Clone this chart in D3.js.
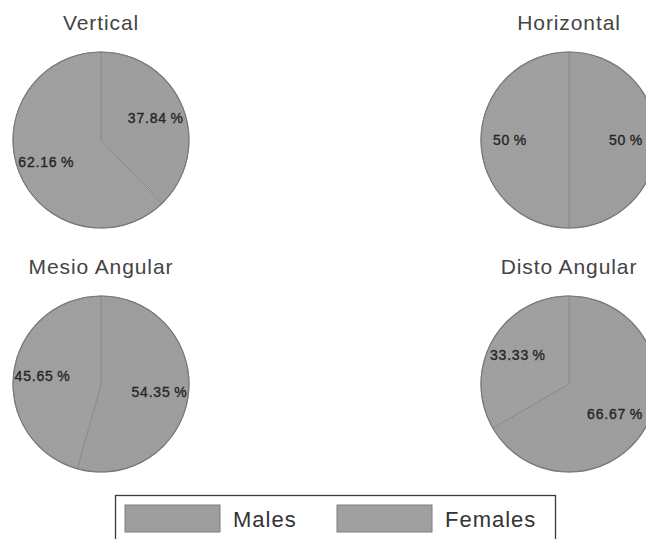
<!DOCTYPE html>
<html>
<head>
<meta charset="utf-8">
<script src="https://cdn.jsdelivr.net/npm/d3@7"></script>
<style>
  html, body { margin: 0; padding: 0; background: #fff; }
  svg { display: block; }
  text { font-family: "Liberation Sans", Arial, sans-serif; }
</style>
</head>
<body>
<svg id="chart" width="646" height="539"></svg>
<script>
// Share of males and females for each orientation
const groups = ["Vertical", "Horizontal", "Mesio Angular", "Disto Angular"];
const sexes = ["Males", "Females"];
const males = [37.84, 50, 54.35, 66.67];
const females = [62.16, 50, 45.65, 33.33];

const W = 646, H = 539;
const svg = d3.select("#chart");

// Dithered gray fills, one per sex
const defs = svg.append("defs");
const tones = { Males: ["#a4a4a4", "#979797"], Females: ["#a6a6a6", "#999999"] };
sexes.forEach(s => {
  const p = defs.append("pattern")
    .attr("id", "fill-" + s)
    .attr("width", 2).attr("height", 2)
    .attr("patternUnits", "userSpaceOnUse");
  p.append("rect").attr("width", 2).attr("height", 2).attr("fill", tones[s][0]);
  p.append("rect").attr("width", 1).attr("height", 1).attr("fill", tones[s][1]);
  p.append("rect").attr("x", 1).attr("y", 1).attr("width", 1).attr("height", 1).attr("fill", tones[s][1]);
});
defs.append("filter").attr("id", "soft")
  .append("feGaussianBlur").attr("stdDeviation", 0.35);

const color = d3.scaleOrdinal().domain(sexes).range(sexes.map(s => `url(#fill-${s})`));

// 2 x 2 grid of pies
const colX = d3.scalePoint().domain([0, 1]).range([101, 569]);
const rowY = d3.scalePoint().domain([0, 1]).range([140, 384]);
const radius = 88;

const pie = d3.pie().sort(null).value(d => d.value);
const arc = d3.arc().innerRadius(0).outerRadius(radius);
const labelArc = d3.arc().innerRadius(59).outerRadius(59);
const fmt = v => (Number.isInteger(v) ? v : v.toFixed(2)) + "\u2009%";

groups.forEach((g, i) => {
  const cx = colX(i % 2), cy = rowY(Math.floor(i / 2));
  const data = [
    { sex: "Males", value: males[i] },
    { sex: "Females", value: females[i] }
  ];
  const cell = svg.append("g").attr("transform", `translate(${cx},${cy})`);

  cell.append("text")
    .attr("x", 0).attr("y", -radius - 22)
    .attr("text-anchor", "middle")
    .attr("font-size", 21)
    .attr("letter-spacing", 0.9)
    .attr("fill", "#444")
    .text(g);

  const pg = cell.append("g").attr("filter", "url(#soft)");
  pg.selectAll("path.slice")
    .data(pie(data))
    .join("path")
    .attr("class", "slice")
    .attr("d", arc)
    .attr("fill", d => color(d.data.sex))
    .attr("stroke", "#8c8c8c")
    .attr("stroke-width", 1);

  pg.append("circle")
    .attr("r", radius)
    .attr("fill", "none")
    .attr("stroke", "#7a7a7a")
    .attr("stroke-width", 1.2);

  cell.selectAll("text.pct")
    .data(pie(data))
    .join("text")
    .attr("class", "pct")
    .attr("text-anchor", "middle")
    .attr("dy", "0.36em")
    .attr("font-size", 14)
    .attr("letter-spacing", 0.8)
    .attr("fill", "#262626")
    .attr("stroke", "#262626")
    .attr("stroke-width", 0.35)
    .text(d => fmt(d.data.value))
    .attr("transform", function (d) {
      const [x, y] = labelArc.centroid(d);
      // keep each label inside the page's right edge
      const half = this.getComputedTextLength() / 2;
      return `translate(${Math.min(x, W - 3 - cx - half)},${y})`;
    });
});

// Legend
const legend = svg.append("g");
legend.append("rect")
  .attr("x", 115.5).attr("y", 495.5)
  .attr("width", 440).attr("height", 70)
  .attr("fill", "#fff")
  .attr("stroke", "#3a3a3a")
  .attr("stroke-width", 1.3);

const legendX = d3.scalePoint().domain(sexes).range([125, 337]);
const items = legend.selectAll("g.item")
  .data(sexes)
  .join("g")
  .attr("class", "item")
  .attr("transform", d => `translate(${legendX(d)},505)`);

items.append("rect")
  .attr("width", 95).attr("height", 27)
  .attr("fill", d => color(d))
  .attr("stroke", "#7e7e7e")
  .attr("stroke-width", 1)
  .attr("filter", "url(#soft)");

items.append("text")
  .attr("x", 108).attr("y", 22)
  .attr("font-size", 22)
  .attr("letter-spacing", 1)
  .attr("fill", "#333")
  .text(d => d);
</script>
</body>
</html>
